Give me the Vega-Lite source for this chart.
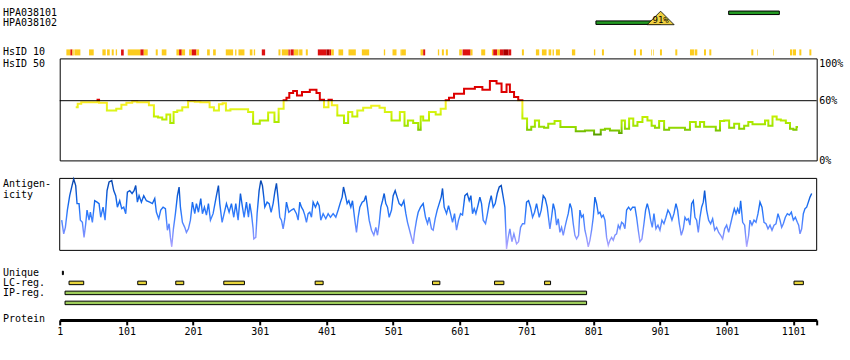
{
  "$schema": "https://vega.github.io/schema/vega-lite/v6.json",
  "background": "white",
  "padding": {"left": 1.7, "top": 4.4, "right": 0, "bottom": 0},
  "bounds": "flush",
  "spacing": 3,
  "resolve": {"scale": {"color": "independent"}},
  "config": {
    "font": "DejaVu Sans Mono",
    "view": {"stroke": null},
    "axis": {"labelFont": "DejaVu Sans Mono", "titleFont": "DejaVu Sans Mono", "labelColor": "#000", "titleColor": "#000", "labelFontSize": 10, "titleFontSize": 10, "titleFontWeight": "normal", "grid": false}
  },
  "datasets": {
    "ab": [
      {"ab": "HPA038101", "start": 1004, "end": 1080},
      {"ab": "HPA038102", "start": 805, "end": 902, "peak": 902, "score": "91%"}
    ],
    "hs10": [
      {"start": 11, "end": 17, "level": "low"}, {"start": 17, "end": 20, "level": "mid"}, {"start": 20, "end": 22, "level": "low"}, {"start": 23, "end": 32, "level": "low"},
      {"start": 45, "end": 52, "level": "low"},
      {"start": 65, "end": 70, "level": "low"}, {"start": 72, "end": 76, "level": "low"}, {"start": 79, "end": 82, "level": "low"}, {"start": 85, "end": 87, "level": "low"}, {"start": 93, "end": 97, "level": "mid"},
      {"start": 103, "end": 122, "level": "low"}, {"start": 122, "end": 127, "level": "mid"}, {"start": 127, "end": 133, "level": "low"},
      {"start": 145, "end": 148, "level": "low"}, {"start": 154, "end": 161, "level": "low"},
      {"start": 176, "end": 180, "level": "low"}, {"start": 180, "end": 184, "level": "mid"}, {"start": 184, "end": 189, "level": "low"},
      {"start": 195, "end": 199, "level": "low"}, {"start": 199, "end": 206, "level": "mid"}, {"start": 206, "end": 210, "level": "low"},
      {"start": 222, "end": 226, "level": "low"}, {"start": 231, "end": 235, "level": "low"},
      {"start": 250, "end": 261, "level": "low"}, {"start": 264, "end": 266, "level": "low"}, {"start": 269, "end": 278, "level": "low"}, {"start": 286, "end": 290, "level": "low"}, {"start": 292, "end": 294, "level": "low"},
      {"start": 304, "end": 309, "level": "mid"},
      {"start": 329, "end": 332, "level": "low"},
      {"start": 334, "end": 344, "level": "low"}, {"start": 344, "end": 346, "level": "mid"}, {"start": 347, "end": 352, "level": "mid"}, {"start": 352, "end": 359, "level": "low"}, {"start": 360, "end": 365, "level": "low"}, {"start": 370, "end": 373, "level": "low"},
      {"start": 388, "end": 401, "level": "mid"}, {"start": 401, "end": 405, "level": "high"}, {"start": 405, "end": 408, "level": "mid"}, {"start": 408, "end": 412, "level": "low"},
      {"start": 419, "end": 426, "level": "low"}, {"start": 434, "end": 445, "level": "low"}, {"start": 454, "end": 465, "level": "low"}, {"start": 487, "end": 489, "level": "low"}, {"start": 500, "end": 506, "level": "low"}, {"start": 512, "end": 514, "level": "low"}, {"start": 514, "end": 520, "level": "low"},
      {"start": 542, "end": 546, "level": "low"}, {"start": 546, "end": 549, "level": "mid"},
      {"start": 568, "end": 570, "level": "low"}, {"start": 574, "end": 577, "level": "low"}, {"start": 580, "end": 583, "level": "low"},
      {"start": 600, "end": 604, "level": "low"}, {"start": 605, "end": 617, "level": "mid"}, {"start": 617, "end": 620, "level": "low"},
      {"start": 633, "end": 639, "level": "low"},
      {"start": 649, "end": 651, "level": "low"}, {"start": 651, "end": 657, "level": "mid"}, {"start": 657, "end": 661, "level": "low"}, {"start": 661, "end": 666, "level": "mid"}, {"start": 666, "end": 674, "level": "high"}, {"start": 674, "end": 678, "level": "mid"},
      {"start": 694, "end": 697, "level": "low"}, {"start": 715, "end": 720, "level": "low"}, {"start": 724, "end": 731, "level": "low"}, {"start": 734, "end": 738, "level": "low"}, {"start": 740, "end": 742, "level": "low"}, {"start": 745, "end": 751, "level": "low"},
      {"start": 769, "end": 774, "level": "low"}, {"start": 802, "end": 804, "level": "low"}, {"start": 814, "end": 817, "level": "low"}, {"start": 862, "end": 865, "level": "low"}, {"start": 871, "end": 874, "level": "low"}, {"start": 888, "end": 889, "level": "low"}, {"start": 891, "end": 892, "level": "low"}, {"start": 901, "end": 904, "level": "low"}, {"start": 924, "end": 927, "level": "low"}, {"start": 946, "end": 952, "level": "low"}, {"start": 953, "end": 957, "level": "low"}, {"start": 967, "end": 970, "level": "low"}, {"start": 975, "end": 978, "level": "low"}, {"start": 1038, "end": 1041, "level": "low"}, {"start": 1047, "end": 1048, "level": "low"}, {"start": 1071, "end": 1072, "level": "low"}, {"start": 1096, "end": 1099, "level": "low"}, {"start": 1100, "end": 1105, "level": "low"}, {"start": 1110, "end": 1113, "level": "low"}, {"start": 1125, "end": 1128, "level": "low"}
    ],
    "hs50": [
      {"pos": 25, "pct": 53.3}, {"pos": 31, "pct": 56.9}, {"pos": 35.5, "pct": 58.4}, {"pos": 56.5, "pct": 58.4}, {"pos": 59, "pct": 61}, {"pos": 61, "pct": 57.9}, {"pos": 70, "pct": 57.9}, {"pos": 73.5, "pct": 50.2}, {"pos": 80.5, "pct": 50.2}, {"pos": 91, "pct": 52}, {"pos": 96, "pct": 56}, {"pos": 106, "pct": 57.9}, {"pos": 113.5, "pct": 59.2}, {"pos": 121, "pct": 58.4}, {"pos": 131, "pct": 58.4}, {"pos": 138.5, "pct": 55.4}, {"pos": 146, "pct": 44.1}, {"pos": 151, "pct": 43.1}, {"pos": 158.5, "pct": 41}, {"pos": 163.5, "pct": 46.1}, {"pos": 170, "pct": 37.5}, {"pos": 173.5, "pct": 48.6}, {"pos": 181, "pct": 50.2}, {"pos": 188.5, "pct": 53.3}, {"pos": 198.5, "pct": 59.5}, {"pos": 208.5, "pct": 59}, {"pos": 215.5, "pct": 58.4}, {"pos": 223, "pct": 58.4}, {"pos": 228.5, "pct": 53.3}, {"pos": 236, "pct": 50.2}, {"pos": 243.5, "pct": 56.4}, {"pos": 247, "pct": 57.4}, {"pos": 253.5, "pct": 50.2}, {"pos": 260.5, "pct": 51.3}, {"pos": 281, "pct": 51.3}, {"pos": 286, "pct": 48.6}, {"pos": 296, "pct": 36.9}, {"pos": 306, "pct": 40}, {"pos": 321, "pct": 48.2}, {"pos": 325, "pct": 38.5}, {"pos": 333.5, "pct": 52}, {"pos": 340, "pct": 60.5}, {"pos": 342, "pct": 62.9}, {"pos": 348.5, "pct": 67.7}, {"pos": 353.5, "pct": 69.7}, {"pos": 360, "pct": 65.3}, {"pos": 368.5, "pct": 68.7}, {"pos": 383.5, "pct": 71}, {"pos": 388.5, "pct": 67.7}, {"pos": 393.5, "pct": 61}, {"pos": 401, "pct": 53.3}, {"pos": 407, "pct": 61}, {"pos": 411, "pct": 55.4}, {"pos": 423.5, "pct": 45.1}, {"pos": 431, "pct": 37.5}, {"pos": 436, "pct": 48.6}, {"pos": 443.5, "pct": 44.1}, {"pos": 451, "pct": 50.2}, {"pos": 461, "pct": 53}, {"pos": 475, "pct": 54.9}, {"pos": 486, "pct": 53}, {"pos": 491, "pct": 48.6}, {"pos": 506, "pct": 40}, {"pos": 516, "pct": 48.6}, {"pos": 520, "pct": 34.9}, {"pos": 526, "pct": 40}, {"pos": 536, "pct": 37.5}, {"pos": 541, "pct": 30.8}, {"pos": 543.5, "pct": 44.1}, {"pos": 548.5, "pct": 40}, {"pos": 561, "pct": 48.6}, {"pos": 568.5, "pct": 46.1}, {"pos": 576, "pct": 52}, {"pos": 583.5, "pct": 60.5}, {"pos": 586, "pct": 62.9}, {"pos": 598.5, "pct": 67}, {"pos": 616, "pct": 72.1}, {"pos": 631, "pct": 73.8}, {"pos": 638.5, "pct": 71}, {"pos": 653.5, "pct": 79.8}, {"pos": 658.5, "pct": 77.2}, {"pos": 668.5, "pct": 68.7}, {"pos": 673.5, "pct": 76.2}, {"pos": 678.5, "pct": 68.7}, {"pos": 686, "pct": 63.6}, {"pos": 691, "pct": 60.5}, {"pos": 698.5, "pct": 42}, {"pos": 705, "pct": 30.8}, {"pos": 711, "pct": 33.8}, {"pos": 716, "pct": 40}, {"pos": 723.5, "pct": 33.8}, {"pos": 731, "pct": 32.8}, {"pos": 736, "pct": 36.9}, {"pos": 750, "pct": 39.5}, {"pos": 753.5, "pct": 33.5}, {"pos": 773.5, "pct": 33.5}, {"pos": 776, "pct": 29.4}, {"pos": 786, "pct": 29.4}, {"pos": 791, "pct": 30.1}, {"pos": 801, "pct": 30.1}, {"pos": 803.5, "pct": 25.9}, {"pos": 811, "pct": 25.9}, {"pos": 813.5, "pct": 30.8}, {"pos": 823.5, "pct": 31.8}, {"pos": 828.5, "pct": 30.1}, {"pos": 838.5, "pct": 30.1}, {"pos": 841, "pct": 27.5}, {"pos": 846, "pct": 40}, {"pos": 851, "pct": 31.8}, {"pos": 858.5, "pct": 42}, {"pos": 863.5, "pct": 34.9}, {"pos": 871, "pct": 38.5}, {"pos": 878.5, "pct": 43.6}, {"pos": 886, "pct": 40}, {"pos": 891, "pct": 34.9}, {"pos": 896, "pct": 32.8}, {"pos": 903.5, "pct": 39.5}, {"pos": 911, "pct": 30.8}, {"pos": 918.5, "pct": 32.8}, {"pos": 936, "pct": 32.8}, {"pos": 941, "pct": 30.8}, {"pos": 951, "pct": 38.5}, {"pos": 958.5, "pct": 33.8}, {"pos": 963.5, "pct": 38.5}, {"pos": 971, "pct": 33.8}, {"pos": 981, "pct": 33.8}, {"pos": 988.5, "pct": 30.1}, {"pos": 993.5, "pct": 39.5}, {"pos": 1001, "pct": 40}, {"pos": 1008.5, "pct": 32.8}, {"pos": 1016, "pct": 36.9}, {"pos": 1023.5, "pct": 31.8}, {"pos": 1031, "pct": 34.9}, {"pos": 1036, "pct": 38.5}, {"pos": 1043.5, "pct": 36.2}, {"pos": 1056, "pct": 36.2}, {"pos": 1061, "pct": 40}, {"pos": 1066, "pct": 34.9}, {"pos": 1073.5, "pct": 44.1}, {"pos": 1078.5, "pct": 41}, {"pos": 1086, "pct": 40}, {"pos": 1093.5, "pct": 37.5}, {"pos": 1098.5, "pct": 31.8}, {"pos": 1103.5, "pct": 30.8}, {"pos": 1108, "pct": 33.5}
    ],
    "ag": [
      {"pos": 4, "score": 42}, {"pos": 7, "score": 23}, {"pos": 9.5, "score": 32}, {"pos": 12.5, "score": 56}, {"pos": 16, "score": 76}, {"pos": 19.5, "score": 90}, {"pos": 22, "score": 99}, {"pos": 25, "score": 90}, {"pos": 27, "score": 65}, {"pos": 30, "score": 65}, {"pos": 32, "score": 42}, {"pos": 35, "score": 39}, {"pos": 37.5, "score": 18}, {"pos": 40, "score": 37}, {"pos": 42, "score": 56}, {"pos": 45, "score": 42}, {"pos": 47, "score": 53}, {"pos": 50, "score": 39}, {"pos": 53.5, "score": 69}, {"pos": 57, "score": 67}, {"pos": 60, "score": 65}, {"pos": 62.5, "score": 46}, {"pos": 66, "score": 60}, {"pos": 69, "score": 42}, {"pos": 72, "score": 83}, {"pos": 75, "score": 95}, {"pos": 79, "score": 97}, {"pos": 82, "score": 83}, {"pos": 85, "score": 76}, {"pos": 87.5, "score": 60}, {"pos": 91, "score": 69}, {"pos": 94, "score": 58}, {"pos": 97, "score": 60}, {"pos": 100, "score": 51}, {"pos": 102.5, "score": 81}, {"pos": 106, "score": 83}, {"pos": 109.5, "score": 79}, {"pos": 112.5, "score": 83}, {"pos": 115, "score": 90}, {"pos": 117.5, "score": 67}, {"pos": 120, "score": 76}, {"pos": 123.5, "score": 67}, {"pos": 127, "score": 76}, {"pos": 131, "score": 69}, {"pos": 136, "score": 67}, {"pos": 140, "score": 65}, {"pos": 143.5, "score": 72}, {"pos": 146, "score": 53}, {"pos": 149.5, "score": 44}, {"pos": 152.5, "score": 56}, {"pos": 156, "score": 60}, {"pos": 159.5, "score": 58}, {"pos": 162.5, "score": 28}, {"pos": 165, "score": 37}, {"pos": 167, "score": 18}, {"pos": 169, "score": 5}, {"pos": 171.5, "score": 30}, {"pos": 174.5, "score": 51}, {"pos": 177.5, "score": 76}, {"pos": 180, "score": 88}, {"pos": 182, "score": 60}, {"pos": 185, "score": 39}, {"pos": 188.5, "score": 32}, {"pos": 191, "score": 25}, {"pos": 194, "score": 30}, {"pos": 197, "score": 42}, {"pos": 200, "score": 67}, {"pos": 203.5, "score": 51}, {"pos": 206, "score": 65}, {"pos": 209, "score": 53}, {"pos": 212.5, "score": 72}, {"pos": 215, "score": 51}, {"pos": 218, "score": 60}, {"pos": 221, "score": 49}, {"pos": 224, "score": 65}, {"pos": 227, "score": 42}, {"pos": 231, "score": 51}, {"pos": 236, "score": 76}, {"pos": 239, "score": 90}, {"pos": 241, "score": 65}, {"pos": 244.5, "score": 39}, {"pos": 247.5, "score": 51}, {"pos": 251, "score": 65}, {"pos": 255, "score": 53}, {"pos": 258.5, "score": 65}, {"pos": 262, "score": 46}, {"pos": 265, "score": 65}, {"pos": 268.5, "score": 42}, {"pos": 272, "score": 79}, {"pos": 275, "score": 60}, {"pos": 277.5, "score": 46}, {"pos": 281, "score": 67}, {"pos": 284, "score": 46},
      {"pos": 286, "score": 65}, {"pos": 288.5, "score": 51}, {"pos": 291, "score": 30}, {"pos": 292, "score": 16}, {"pos": 295, "score": 18}, {"pos": 297, "score": 51}, {"pos": 300, "score": 83}, {"pos": 302.5, "score": 97}, {"pos": 305, "score": 90}, {"pos": 307, "score": 74}, {"pos": 308.5, "score": 60}, {"pos": 312, "score": 67}, {"pos": 315, "score": 65}, {"pos": 318, "score": 53}, {"pos": 321, "score": 65}, {"pos": 323.5, "score": 81}, {"pos": 326, "score": 93}, {"pos": 328.5, "score": 72}, {"pos": 331, "score": 46}, {"pos": 333.5, "score": 42}, {"pos": 336, "score": 30}, {"pos": 338.5, "score": 44}, {"pos": 341, "score": 67}, {"pos": 344.5, "score": 53}, {"pos": 348.5, "score": 56}, {"pos": 352, "score": 58}, {"pos": 356, "score": 51}, {"pos": 358.5, "score": 42}, {"pos": 361, "score": 67}, {"pos": 363.5, "score": 60}, {"pos": 366, "score": 56}, {"pos": 368.5, "score": 49}, {"pos": 371, "score": 39}, {"pos": 373.5, "score": 51}, {"pos": 376, "score": 53}, {"pos": 378.5, "score": 46}, {"pos": 381, "score": 67}, {"pos": 384.5, "score": 60}, {"pos": 387.5, "score": 67}, {"pos": 390, "score": 62}, {"pos": 392.5, "score": 42}, {"pos": 396, "score": 51}, {"pos": 400, "score": 44}, {"pos": 403.5, "score": 51}, {"pos": 407, "score": 46}, {"pos": 411, "score": 51}, {"pos": 415, "score": 46}, {"pos": 418.5, "score": 56}, {"pos": 422, "score": 67}, {"pos": 424.5, "score": 74}, {"pos": 426.5, "score": 88}, {"pos": 429.5, "score": 76}, {"pos": 432, "score": 65}, {"pos": 434.5, "score": 69}, {"pos": 437.5, "score": 60}, {"pos": 440, "score": 69}, {"pos": 443.5, "score": 42}, {"pos": 446, "score": 25}, {"pos": 448.5, "score": 46}, {"pos": 451, "score": 60}, {"pos": 454.5, "score": 67}, {"pos": 457.5, "score": 69}, {"pos": 460, "score": 76}, {"pos": 462.5, "score": 60}, {"pos": 465, "score": 42}, {"pos": 468.5, "score": 28}, {"pos": 472, "score": 21}, {"pos": 475, "score": 32}, {"pos": 477.5, "score": 21}, {"pos": 480, "score": 37}, {"pos": 482.5, "score": 60}, {"pos": 485, "score": 69}, {"pos": 487.5, "score": 79}, {"pos": 490, "score": 65}, {"pos": 492.5, "score": 60}, {"pos": 495, "score": 46}, {"pos": 498.5, "score": 56}, {"pos": 501, "score": 76}, {"pos": 504, "score": 83}, {"pos": 507, "score": 74}, {"pos": 510, "score": 65}, {"pos": 513.5, "score": 62}, {"pos": 517, "score": 69}, {"pos": 520, "score": 51}, {"pos": 522.5, "score": 39}, {"pos": 525, "score": 30}, {"pos": 527.5, "score": 21}, {"pos": 531, "score": 9}, {"pos": 533, "score": 25}, {"pos": 536, "score": 42}, {"pos": 538.5, "score": 53}, {"pos": 542, "score": 60}, {"pos": 546, "score": 65}, {"pos": 549.5, "score": 46}, {"pos": 552.5, "score": 37}, {"pos": 555, "score": 46}, {"pos": 558.5, "score": 30}, {"pos": 561, "score": 28}, {"pos": 564, "score": 44}, {"pos": 567, "score": 56}, {"pos": 570, "score": 65}, {"pos": 573, "score": 74}, {"pos": 575, "score": 86}, {"pos": 577.5, "score": 60}, {"pos": 581, "score": 51}, {"pos": 584, "score": 62}, {"pos": 587, "score": 51}, {"pos": 590, "score": 39}, {"pos": 593, "score": 51}, {"pos": 596, "score": 28}, {"pos": 599, "score": 42}, {"pos": 602, "score": 51}, {"pos": 605, "score": 49}, {"pos": 608.5, "score": 76}, {"pos": 612, "score": 79}, {"pos": 615, "score": 69}, {"pos": 617.5, "score": 76}, {"pos": 620, "score": 51}, {"pos": 622.5, "score": 58}, {"pos": 625, "score": 51}, {"pos": 628, "score": 62}, {"pos": 631, "score": 74}, {"pos": 633.5, "score": 65}, {"pos": 636, "score": 42}, {"pos": 639.5, "score": 37}, {"pos": 642, "score": 49}, {"pos": 645, "score": 65}, {"pos": 648, "score": 76}, {"pos": 651, "score": 60}, {"pos": 654, "score": 65}, {"pos": 657, "score": 79}, {"pos": 660, "score": 88}, {"pos": 663, "score": 90}, {"pos": 666, "score": 74}, {"pos": 668.5, "score": 60}, {"pos": 671, "score": 2}, {"pos": 673.5, "score": 18}, {"pos": 676, "score": 30}, {"pos": 679, "score": 12}, {"pos": 682, "score": 23}, {"pos": 686, "score": 9}, {"pos": 689, "score": 12}, {"pos": 692, "score": 32}, {"pos": 695, "score": 37}, {"pos": 698, "score": 37}, {"pos": 701, "score": 67}, {"pos": 704, "score": 69}, {"pos": 707, "score": 60}, {"pos": 710, "score": 46}, {"pos": 713, "score": 53}, {"pos": 716, "score": 65}, {"pos": 720, "score": 46}, {"pos": 723, "score": 56}, {"pos": 726, "score": 76}, {"pos": 729, "score": 72}, {"pos": 732, "score": 60}, {"pos": 735, "score": 37},
      {"pos": 736, "score": 30}, {"pos": 738.5, "score": 46}, {"pos": 741, "score": 65}, {"pos": 743.5, "score": 56}, {"pos": 746, "score": 35}, {"pos": 748.5, "score": 44}, {"pos": 751, "score": 25}, {"pos": 753.5, "score": 32}, {"pos": 756, "score": 21}, {"pos": 758.5, "score": 32}, {"pos": 761, "score": 42}, {"pos": 763.5, "score": 51}, {"pos": 766, "score": 65}, {"pos": 768.5, "score": 58}, {"pos": 771, "score": 37}, {"pos": 773.5, "score": 21}, {"pos": 776, "score": 16}, {"pos": 779, "score": 21}, {"pos": 781, "score": 56}, {"pos": 783.5, "score": 46}, {"pos": 786, "score": 49}, {"pos": 788.5, "score": 28}, {"pos": 791, "score": 18}, {"pos": 793.5, "score": 5}, {"pos": 796, "score": 14}, {"pos": 798.5, "score": 28}, {"pos": 801, "score": 46}, {"pos": 803.5, "score": 74}, {"pos": 806, "score": 65}, {"pos": 808.5, "score": 51}, {"pos": 811, "score": 53}, {"pos": 813.5, "score": 46}, {"pos": 816, "score": 49}, {"pos": 818.5, "score": 42}, {"pos": 821, "score": 18}, {"pos": 823.5, "score": 7}, {"pos": 826, "score": 14}, {"pos": 828.5, "score": 18}, {"pos": 831, "score": 14}, {"pos": 833.5, "score": 21}, {"pos": 836, "score": 23}, {"pos": 838.5, "score": 35}, {"pos": 841, "score": 30}, {"pos": 843.5, "score": 39}, {"pos": 846, "score": 37}, {"pos": 848.5, "score": 30}, {"pos": 851, "score": 56}, {"pos": 854, "score": 60}, {"pos": 857, "score": 56}, {"pos": 860, "score": 60}, {"pos": 863.5, "score": 60}, {"pos": 866, "score": 46}, {"pos": 868.5, "score": 28}, {"pos": 871, "score": 12}, {"pos": 874, "score": 16}, {"pos": 877, "score": 37}, {"pos": 879.5, "score": 56}, {"pos": 882, "score": 65}, {"pos": 884.5, "score": 56}, {"pos": 887, "score": 42}, {"pos": 889.5, "score": 32}, {"pos": 892, "score": 51}, {"pos": 895, "score": 30}, {"pos": 898, "score": 35}, {"pos": 901, "score": 28}, {"pos": 904, "score": 42}, {"pos": 907, "score": 37}, {"pos": 910, "score": 46}, {"pos": 913, "score": 56}, {"pos": 916, "score": 51}, {"pos": 919, "score": 42}, {"pos": 922, "score": 51}, {"pos": 925, "score": 65}, {"pos": 927.5, "score": 56}, {"pos": 930, "score": 37}, {"pos": 933, "score": 21}, {"pos": 936, "score": 30}, {"pos": 938.5, "score": 46}, {"pos": 941, "score": 42}, {"pos": 943.5, "score": 44}, {"pos": 946, "score": 35}, {"pos": 948.5, "score": 65}, {"pos": 951, "score": 69}, {"pos": 953.5, "score": 46}, {"pos": 956, "score": 42}, {"pos": 958.5, "score": 25}, {"pos": 961, "score": 46}, {"pos": 963.5, "score": 60}, {"pos": 966, "score": 67}, {"pos": 968, "score": 83}, {"pos": 971, "score": 56}, {"pos": 974, "score": 42}, {"pos": 977, "score": 37}, {"pos": 980, "score": 44}, {"pos": 983, "score": 28}, {"pos": 986, "score": 32}, {"pos": 989, "score": 25}, {"pos": 992, "score": 21}, {"pos": 995, "score": 16}, {"pos": 998, "score": 30}, {"pos": 1001, "score": 35}, {"pos": 1004, "score": 25}, {"pos": 1007, "score": 37}, {"pos": 1010, "score": 49}, {"pos": 1012.5, "score": 58}, {"pos": 1015, "score": 51}, {"pos": 1017.5, "score": 58}, {"pos": 1020, "score": 51}, {"pos": 1022, "score": 69}, {"pos": 1025, "score": 39}, {"pos": 1028, "score": 35}, {"pos": 1031, "score": 5}, {"pos": 1034, "score": 21}, {"pos": 1036, "score": 42}, {"pos": 1039, "score": 35}, {"pos": 1042, "score": 42}, {"pos": 1045, "score": 39}, {"pos": 1048, "score": 51}, {"pos": 1051, "score": 67}, {"pos": 1054, "score": 60}, {"pos": 1057, "score": 39}, {"pos": 1060, "score": 37}, {"pos": 1063, "score": 30}, {"pos": 1066, "score": 35}, {"pos": 1069, "score": 28}, {"pos": 1072, "score": 35}, {"pos": 1075, "score": 37}, {"pos": 1078, "score": 51}, {"pos": 1081, "score": 42}, {"pos": 1083.5, "score": 32}, {"pos": 1086, "score": 37}, {"pos": 1089, "score": 46}, {"pos": 1092, "score": 51}, {"pos": 1095, "score": 49}, {"pos": 1098, "score": 53}, {"pos": 1101, "score": 42}, {"pos": 1104, "score": 46}, {"pos": 1107, "score": 39}, {"pos": 1109, "score": 35}, {"pos": 1111, "score": 23}, {"pos": 1113.5, "score": 30}, {"pos": 1116, "score": 51}, {"pos": 1118.5, "score": 58}, {"pos": 1121, "score": 60}, {"pos": 1123.5, "score": 67}, {"pos": 1126, "score": 74}, {"pos": 1128.5, "score": 79}
    ],
    "regions": [
      {"track": "Unique", "start": 5, "end": 6.5},
      {"track": "LC-reg.", "start": 15, "end": 37}, {"track": "LC-reg.", "start": 118, "end": 131}, {"track": "LC-reg.", "start": 175, "end": 187}, {"track": "LC-reg.", "start": 247, "end": 278}, {"track": "LC-reg.", "start": 384, "end": 396}, {"track": "LC-reg.", "start": 560, "end": 571}, {"track": "LC-reg.", "start": 653, "end": 667}, {"track": "LC-reg.", "start": 728, "end": 737}, {"track": "LC-reg.", "start": 1102, "end": 1116},
      {"track": "IP-reg.", "start": 9, "end": 791},
      {"track": "IP-reg. 2", "start": 9, "end": 791}
    ],
    "threshold": [{"pct": 60}],
    "frame": [{"panel": "Antigenicity", "from": 0, "to": 100, "first": 1, "last": 1136}]
  },
  "vconcat": [
    {
      "width": 757,
      "height": 29.6,
      "data": {"name": "ab"},
      "encoding": {
        "y": {"field": "ab", "type": "nominal", "scale": {"type": "point", "padding": 1, "align": 0.4257, "domain": ["HPA038101", "HPA038102"]},
          "axis": {"title": null, "ticks": false, "tickSize": 0, "domain": false, "labelPadding": 57.3, "labelAlign": "left", "labelBaseline": "middle"}}
      },
      "layer": [
        {
          "mark": {"type": "bar", "size": 3.5, "color": "#229922", "stroke": "#000", "strokeWidth": 1},
          "encoding": {
            "x": {"field": "start", "type": "quantitative", "scale": {"domain": [1, 1136], "nice": false, "zero": false}, "axis": null},
            "x2": {"field": "end"}
          }
        },
        {
          "transform": [{"filter": "isValid(datum.score)"}],
          "mark": {"type": "point", "shape": "M-1,0.15L0,-0.85L1,0.15Z", "size": 729, "filled": true, "fill": "#f0d040", "stroke": "#000", "strokeWidth": 0.8, "opacity": 1},
          "encoding": {
            "x": {"field": "peak", "type": "quantitative", "scale": {"domain": [1, 1136], "nice": false, "zero": false}, "axis": null}
          }
        },
        {
          "transform": [{"filter": "isValid(datum.score)"}],
          "mark": {"type": "text", "dy": -2.5, "fontSize": 9, "color": "#000", "font": "DejaVu Sans Mono"},
          "encoding": {
            "x": {"field": "peak", "type": "quantitative", "scale": {"domain": [1, 1136], "nice": false, "zero": false}, "axis": null},
            "text": {"field": "score"}
          }
        }
      ]
    },
    {
      "width": 757,
      "height": 18,
      "data": {"name": "hs10"},
      "mark": {"type": "bar"},
      "encoding": {
        "x": {"field": "start", "type": "quantitative", "scale": {"domain": [1, 1136], "nice": false, "zero": false}, "axis": null},
        "x2": {"field": "end"},
        "y": {"datum": "HsID 10", "type": "nominal", "scale": {"type": "band", "paddingInner": 0, "paddingOuter": 1, "align": 1},
          "axis": {"title": null, "ticks": false, "tickSize": 0, "domain": false, "labelPadding": 57.3, "labelAlign": "left", "labelBaseline": "middle"}},
        "color": {"field": "level", "type": "nominal", "scale": {"domain": ["low", "mid", "high"], "range": ["#fccc1e", "#dd1111", "#aa0000"]}, "legend": null}
      }
    },
    {
      "width": 757,
      "height": 102,
      "view": {"stroke": "#000", "strokeWidth": 1},
      "layer": [
        {
          "data": {"name": "hs50"},
          "mark": {"type": "line", "interpolate": "step", "strokeWidth": 2,
            "color": {"gradient": "linear", "x1": 0, "y1": 0, "x2": 0, "y2": 1, "stops": [
              {"offset": 0, "color": "#dd0000"}, {"offset": 0.36, "color": "#dd0000"},
              {"offset": 0.372, "color": "#ffe820"}, {"offset": 0.44, "color": "#f4f020"},
              {"offset": 0.55, "color": "#dcf51a"}, {"offset": 0.64, "color": "#c8f000"},
              {"offset": 0.74, "color": "#b4ec00"}, {"offset": 0.83, "color": "#a0e400"},
              {"offset": 0.9, "color": "#88d000"}, {"offset": 0.96, "color": "#68b400"},
              {"offset": 1, "color": "#559a00"}]}},
          "encoding": {
            "x": {"field": "pos", "type": "quantitative", "scale": {"domain": [1, 1136], "nice": false, "zero": false}, "axis": null},
            "y": {"field": "pct", "type": "quantitative", "scale": {"domain": [0, 102.5], "nice": false, "zero": true},
              "axis": {"orient": "right", "values": [0, 60, 100], "labelExpr": "datum.value + '%'", "ticks": false, "tickSize": 0, "domain": false, "grid": false, "labelPadding": 2,
                "labelBaseline": {"condition": {"test": "datum.value == 100", "value": "top"}, "value": "middle"},
                "labelOffset": {"condition": {"test": "datum.value == 100", "value": -2}, "value": 0},
                "title": "HsID 50", "titleAngle": 0, "titleAlign": "left", "titleBaseline": "top", "titleX": -814.3, "titleY": 0}}
          }
        },
        {
          "data": {"name": "threshold"},
          "mark": {"type": "rule", "color": "#000", "strokeWidth": 1},
          "encoding": {"y": {"field": "pct", "type": "quantitative"}}
        }
      ]
    },
    {
      "width": 757,
      "height": 100,
      "layer": [
        {
          "data": {"name": "frame"},
          "mark": {"type": "rect", "fill": null, "filled": false, "stroke": "#000", "strokeWidth": 1},
          "encoding": {
            "x": {"field": "first", "type": "quantitative", "scale": {"domain": [1, 1136], "nice": false, "zero": false}, "axis": null},
            "x2": {"field": "last"},
            "y": {"field": "from", "type": "quantitative", "scale": {"domain": [-18.06, 120.83], "nice": false, "zero": false},
              "axis": {"title": ["Antigen-", "icity"], "titleAngle": 0, "titleAlign": "left", "titleBaseline": "top", "titleX": -57.3, "titleY": 15, "titleLineHeight": 10.7, "labels": false, "ticks": false, "domain": false, "grid": false}},
            "y2": {"field": "to"}
          }
        },
        {
          "data": {"name": "ag"},
          "mark": {"type": "line", "strokeWidth": 1.4,
            "color": {"gradient": "linear", "x1": 0, "y1": 0, "x2": 0, "y2": 1, "stops": [
              {"offset": 0, "color": "#0a46a8"}, {"offset": 0.15, "color": "#0a52c8"},
              {"offset": 0.35, "color": "#176bef"}, {"offset": 0.55, "color": "#3a80ff"},
              {"offset": 0.75, "color": "#6f8cff"}, {"offset": 0.9, "color": "#9a9cff"},
              {"offset": 1, "color": "#b8aaff"}]}},
          "encoding": {
            "x": {"field": "pos", "type": "quantitative"},
            "y": {"field": "score", "type": "quantitative"}
          }
        }
      ]
    },
    {
      "width": 757,
      "height": 41,
      "data": {"name": "regions"},
      "mark": {"type": "bar", "size": 3.5, "stroke": "#000", "strokeWidth": 1},
      "encoding": {
        "x": {"field": "start", "type": "quantitative", "scale": {"domain": [1, 1136], "nice": false, "zero": false},
          "axis": {"orient": "bottom", "offset": 12.5, "values": [1, 101, 201, 301, 401, 501, 601, 701, 801, 901, 1001, 1101, 1136], "format": "d",
            "labelExpr": "datum.value == 1136 ? '' : datum.label", "labelFlush": false, "labelOverlap": false,
            "domainWidth": 3, "domainColor": "#000", "tickColor": "#000", "tickWidth": 2, "tickSize": 5, "labelPadding": 2, "grid": false,
            "title": "Protein", "titleX": -57.3, "titleY": -1, "titleAngle": 0, "titleAlign": "left", "titleBaseline": "middle"}},
        "x2": {"field": "end"},
        "y": {"field": "track", "type": "nominal", "scale": {"type": "point", "padding": 0.55, "align": 0.591, "domain": ["Unique", "LC-reg.", "IP-reg.", "IP-reg. 2"]},
          "axis": {"title": null, "ticks": false, "tickSize": 0, "domain": false, "labelPadding": 57.3, "labelAlign": "left", "labelBaseline": "middle", "labelExpr": "datum.value == 'IP-reg. 2' ? '' : datum.label"}},
        "color": {"field": "track", "type": "nominal", "scale": {"domain": ["Unique", "LC-reg.", "IP-reg.", "IP-reg. 2"], "range": ["#000000", "#e6d43a", "#9dcc5a", "#9dcc5a"]}, "legend": null}
      }
    }
  ]
}
